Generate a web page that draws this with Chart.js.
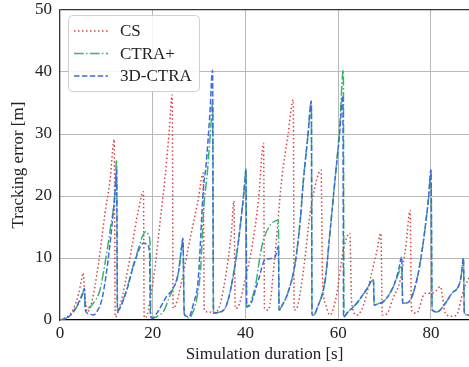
<!DOCTYPE html>
<html>
<head>
<meta charset="utf-8">
<script src="https://cdn.jsdelivr.net/npm/chart.js@4/dist/chart.umd.min.js"></script>
<style>
  html, body { margin: 0; padding: 0; background: #fff; }
  #wrap { width: 469px; height: 367px; }
</style>
</head>
<body>
<div id="wrap"><canvas id="chart"></canvas></div>
<script>
'use strict';

// tracking error vs simulation duration
const seriesNames = ['CS', 'CTRA+', '3D-CTRA'];
const xTicks = [0, 20, 40, 60, 80];
const yTicks = [0, 10, 20, 30, 40, 50];

const csX = [0, 1, 2, 3, 4, 4.6, 5.0, 5.3, 5.9, 6.8, 8.3, 9.7, 10.8, 11.7, 11.9, 12.9, 14.2, 15.5, 16.9, 18.0, 18.15, 18.6, 19.5, 20.5, 21.6, 22.6, 23.5, 24.2, 24.4, 25.0, 26.3, 27.7, 29.8, 30.9, 31.1, 32.0, 33.1, 34.2, 35.6, 37.0, 37.5, 37.8, 38.3, 39.9, 41.4, 42.8, 43.9, 44.1, 44.9, 46.3, 47.8, 49.2, 50.3, 50.5, 51.0, 52.5, 53.9, 55.3, 56.3, 56.6, 57.3, 58.2, 59.5, 61.1, 62.5, 62.9, 64.0, 65.5, 67.2, 68.3, 69.2, 69.5, 70.5, 71.8, 73.4, 74.6, 75.5, 75.8, 76.9, 78.7, 79.5, 80.1, 81.2, 82.0, 83.1, 84.5, 85.5, 87.0, 88.2];
const csY = [0, 0.3, 0.8, 2.0, 4.2, 6.3, 7.6, 4.5, 1.3, 2.7, 9.1, 17.2, 22.6, 29.1, 0.5, 2.2, 6.5, 11.8, 17.7, 20.7, 0.4, 0.5, 3.5, 8.6, 16, 22.6, 30, 36.3, 1.9, 2.5, 6.5, 11.8, 19.4, 23.7, 1.6, 1.3, 1.2, 1.8, 6.5, 14.5, 19.2, 1.9, 2.0, 6.5, 11.8, 19.4, 28.5, 1.9, 1.6, 10, 22.6, 30, 35.5, 1.6, 1.8, 8, 17, 22.5, 24.2, 7, 2.5, 0.8, 3.5, 11.3, 14.0, 2.7, 0.8, 2.5, 7.5, 11, 14.0, 0.8, 1.0, 3.5, 6.5, 12, 17.7, 1.6, 1.1, 4.3, 4.3, 4.3, 4.8, 5.4, 1.1, 0.6, 0.8, 4.8, 6.8];

const ctraX = [0, 1, 2, 3, 4, 4.8, 5.2, 5.5, 6.1, 7.2, 8.6, 9.7, 10.8, 11.9, 12.2, 12.4, 12.9, 14.4, 15.8, 16.5, 17.9, 18.6, 19.2, 19.4, 19.6, 20, 21, 22.4, 23.5, 24.4, 25.5, 26.2, 26.5, 26.8, 27.3, 27.8, 28.5, 29.5, 30.3, 31.0, 31.8, 32.6, 32.9, 33.1, 34.0, 35.6, 37.8, 39.3, 39.9, 40.1, 40.25, 41, 42.1, 43.5, 44.9, 47.1, 47.25, 47.8, 49.2, 50.7, 51.8, 52.5, 53.5, 54.2, 54.35, 54.7, 55.5, 57.2, 58.2, 59.3, 60.3, 61.1, 61.25, 62, 64, 66, 67.6, 67.75, 68.5, 69.8, 71.9, 73.0, 73.7, 73.9, 75, 76.6, 78, 79.5, 80.0, 80.25, 81.3, 83.1, 84.5, 85.9, 86.5, 87.0, 87.2, 88.2];
const ctraY = [0, 0.2, 0.6, 1.4, 2.6, 4.0, 4.8, 1.6, 1.9, 2.7, 4.8, 9.1, 14.5, 21, 25.8, 1.3, 1.9, 5, 8.8, 10.5, 13.7, 14.3, 13.5, 12.6, 0.6, 0.3, 0.6, 1.5, 3.5, 5.1, 7.5, 11.6, 13.0, 1.0, 0.5, 0.3, 1, 3.5, 8, 18, 24, 32, 35.2, 1.1, 1.2, 1.9, 9.1, 18, 22.6, 24.4, 2.1, 2.7, 5.4, 11.8, 14.8, 16.1, 1.6, 2.2, 4.5, 9.1, 16, 22.6, 30, 35.3, 0.8, 0.8, 2, 6.5, 14, 22.6, 31, 40.3, 0.5, 1.2, 2.7, 4.8, 6.5, 2.4, 2.6, 3.0, 5.4, 7.5, 8.8, 2.7, 2.8, 5.4, 10.8, 19.9, 24.2, 1.6, 1.3, 2.7, 4.3, 5.4, 7, 9.9, 1.1, 0.8];

const d3X = [0, 1, 2, 3, 4, 4.8, 5.25, 5.5, 6.2, 7.2, 8, 9.0, 10.1, 11.1, 11.8, 12.2, 12.4, 12.9, 14.4, 15.8, 17.3, 18.0, 18.8, 19.3, 19.5, 19.9, 20.9, 23, 24.4, 25.5, 26.2, 26.5, 26.8, 27.3, 27.8, 28.8, 29.8, 30.9, 31.5, 32.3, 32.9, 33.1, 34.0, 35.6, 37.8, 39.3, 39.9, 40.1, 40.25, 41.0, 42.8, 44.2, 45.5, 46.4, 47.1, 47.25, 47.8, 49.2, 50.7, 51.8, 52.5, 53.5, 54.2, 54.35, 54.7, 55.5, 57.2, 58.2, 59.3, 60.3, 61.0, 61.15, 62, 64, 66, 67.6, 67.75, 68.5, 69.8, 71.9, 73.0, 73.7, 73.9, 75, 76.6, 78, 79.5, 80.0, 80.25, 81.3, 83.1, 84.5, 85.9, 86.5, 87.0, 87.2, 88.2];
const d3Y = [0, 0.2, 0.6, 1.5, 2.8, 4.2, 5.1, 1.5, 1.0, 0.8, 1.4, 3.2, 8.1, 14.5, 20, 24.2, 1.5, 1.9, 4.8, 8.6, 11.8, 12.4, 12.2, 11, 0.6, 0.3, 1.1, 3.8, 5.1, 7.5, 11.6, 13.2, 1.0, 0.6, 0.5, 2.7, 6.5, 21, 25, 33, 40.3, 1.1, 1.2, 1.9, 9.1, 18, 22.6, 24.4, 2.1, 2.4, 6.5, 9.7, 9.9, 10.2, 11.8, 1.6, 2.2, 4.5, 9.1, 16, 22.6, 30, 35.3, 0.8, 0.8, 2, 6.5, 14, 22.6, 30, 36.2, 0.5, 1.2, 2.7, 4.8, 6.5, 2.4, 2.6, 3.0, 5.4, 8, 10.2, 2.7, 2.8, 5.4, 10.8, 19.9, 24.2, 1.6, 1.3, 2.7, 4.3, 5.4, 7, 9.9, 1.1, 0.8];

const toPoints = (xs, ys) => xs.map((x, i) => ({ x, y: ys[i] }));

const FONT = "'Liberation Serif', 'DejaVu Serif', serif";
const LW = 1.5;

// last series ends up on top, like the matplotlib original
const styles = [
  { color: '#d64545', dash: [1.5, 2.5], order: 3 },
  { color: '#3cb371', dash: [9.6, 2.4, 1.5, 2.4], order: 2 },
  { color: '#4169e1', dash: [5.5, 2.4], order: 1 },
];

// legend drawn inside the plot, matplotlib style
const boxLegend = {
  id: 'boxLegend',
  afterDatasetsDraw(chart) {
    const { ctx } = chart;
    const bx = 68, by = 15, bw = 131, bh = 76, r = 4;
    ctx.save();
    ctx.beginPath();
    ctx.roundRect(bx + 0.5, by + 0.5, bw, bh, r);
    ctx.fillStyle = 'rgba(255,255,255,0.85)';
    ctx.fill();
    ctx.strokeStyle = '#d0d0d0';
    ctx.lineWidth = 1;
    ctx.stroke();
    seriesNames.forEach((name, i) => {
      const y = 31 + i * 22.5;
      ctx.beginPath();
      ctx.setLineDash(styles[i].dash);
      ctx.strokeStyle = styles[i].color;
      ctx.lineWidth = LW;
      ctx.moveTo(74, y);
      ctx.lineTo(108, y);
      ctx.stroke();
      ctx.setLineDash([]);
      ctx.fillStyle = '#222';
      ctx.font = '17px ' + FONT;
      ctx.textBaseline = 'middle';
      ctx.fillText(name, 120, y + 1);
    });
    ctx.restore();
  }
};

const series = [toPoints(csX, csY), toPoints(ctraX, ctraY), toPoints(d3X, d3Y)];

new Chart(document.getElementById('chart'), {
  type: 'line',
  data: {
    datasets: series.map((pts, i) => ({
      label: seriesNames[i],
      data: pts,
      order: styles[i].order,
      borderColor: styles[i].color,
      borderDash: styles[i].dash,
      borderWidth: LW,
      pointRadius: 0,
      fill: false,
      cubicInterpolationMode: 'monotone',
    }))
  },
  options: {
    responsive: true,
    maintainAspectRatio: false,
    animation: false,
    layout: { padding: { top: 10, right: 0, left: 0, bottom: 0 } },
    plugins: { legend: { display: false }, tooltip: { enabled: false } },
    scales: {
      x: {
        type: 'linear',
        min: 0,
        max: 88.2,
        afterBuildTicks: (s) => { s.ticks = xTicks.map(v => ({ value: v })); },
        afterFit: (s) => {
          s.height = 47;
          s.paddingLeft = 0; s.paddingRight = 0;
        },
        border: { color: '#000', width: 1.3 },
        grid: {
          drawTicks: false,
          color: (c) => (c.tick && c.tick.value === 0 ? 'rgba(0,0,0,0)' : '#b8b8b8'),
        },
        ticks: { color: '#222', padding: 3, font: { family: FONT, size: 17 } },
        title: {
          display: true,
          text: 'Simulation duration [s]',
          color: '#222',
          padding: { top: 0, bottom: 2 },
          font: { family: FONT, size: 17 },
        },
      },
      y: {
        min: 0,
        max: 50,
        afterBuildTicks: (s) => { s.ticks = yTicks.map(v => ({ value: v })); },
        afterFit: (s) => {
          s.width = 60;
          s.paddingTop = 0; s.paddingBottom = 0;
        },
        border: { color: '#333', width: 1.3 },
        grid: {
          drawTicks: false,
          color: (c) => {
            if (!c.tick) return '#b8b8b8';
            if (c.tick.value === 50) return '#333';
            if (c.tick.value === 0) return 'rgba(0,0,0,0)';
            return '#b8b8b8';
          },
          lineWidth: (c) => (c.tick && c.tick.value === 50 ? 1.3 : 1),
        },
        ticks: { color: '#222', padding: 8, font: { family: FONT, size: 17 } },
        title: {
          display: true,
          text: 'Tracking error [m]',
          color: '#222',
          padding: { top: 8, bottom: 0 },
          font: { family: FONT, size: 17 },
        },
      },
    },
  },
  plugins: [boxLegend],
});
</script>
</body>
</html>
